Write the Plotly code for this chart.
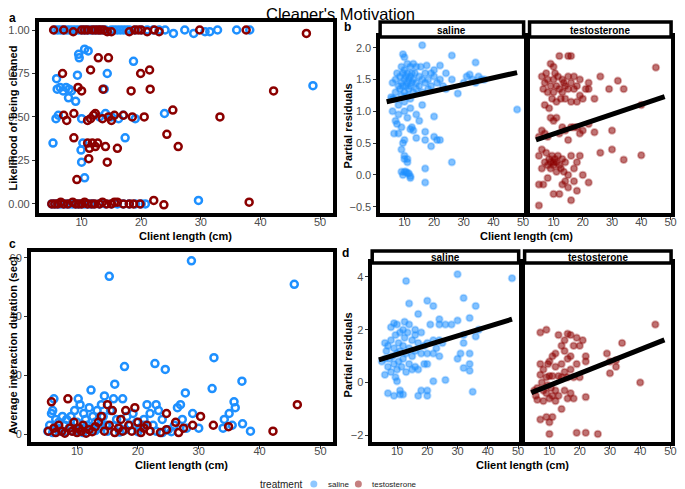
import plotly.graph_objects as go

# the page body keeps its 8px default margin, so the figure is 8px smaller
# and every reference pixel position is shifted by that offset
W, H = 685, 489
OFF = 8
BLUE = "#1E90FF"
RED = "#8B0000"

# ---- panel a: likelihood of being cleaned ----
a_sal_x = [5.5, 6, 6.5, 7, 7.5, 8, 8.5, 9, 9.5, 10, 10.5, 11, 11.5, 12, 12.5, 13, 13.5, 14, 15, 15.5,
           16, 16.5, 17, 17.5, 18, 19, 20, 21, 22, 23, 24, 25.4, 27.3, 28.8, 30.7, 31.5, 32.8, 36, 38.2,
           9.5, 9.6, 10.5, 11.1, 18.7, 14.3, 9.3, 5.8, 5.9, 6.4, 6.9, 7.4, 7.9, 8.3, 7.8, 9.0, 13.8, 48.8,
           5.7, 6.1, 10.0, 13.0, 14.0, 15.0, 16.2, 17.0, 19.0, 23.9, 17.3, 5.2, 9.9, 10.2, 10.0, 10.5,
           5, 5.5, 6, 6.5, 7, 7.5, 8, 8.5, 9, 9.5, 10, 10.5, 11, 11.5, 12, 13, 14, 15, 16, 17, 18, 19,
           20, 20.7, 29.6]
a_sal_y = [1.0] * 25 + [1.0, 1.0, 1.0, 1.0, 1.0, 1.0, 0.98, 1.0, 0.98, 0.99, 0.99, 1.0, 1.0, 1.0,
           0.86, 0.84, 0.89, 0.88, 0.82, 0.75, 0.74, 0.72, 0.66, 0.67, 0.65, 0.67, 0.66, 0.65, 0.61, 0.59, 0.66, 0.68,
           0.49, 0.51, 0.49, 0.5, 0.52, 0.5, 0.49, 0.51, 0.49, 0.52, 0.38, 0.35, 0.31, 0.35, 0.24, 0.15,
           0, 0, 0, 0, 0, 0, 0, 0, 0, 0, 0, 0, 0, 0, 0, 0, 0, 0, 0, 0, 0, 0, 0, 0, 0.02]
a_tes_x = [5.3, 7.0, 8.6, 10.0, 10.5, 11.0, 11.8, 12.3, 12.8, 13.2, 13.7, 14.3, 15.0, 18.0, 18.9, 19.5,
           20.0, 21.0, 22.2, 23.0, 29.8, 37.6, 47.7,
           12.8, 14.5, 11.5, 6.8, 19.9, 21.4, 9.4, 10.0, 13.6, 18.3, 21.5, 42.2,
           7.0, 7.5, 8.7, 11.0, 11.5, 12.0, 12.3, 13.5, 14.5, 15.0, 15.5, 17.0, 18.5, 20.5, 25.3, 33.2,
           8.7, 11.0, 11.8, 12.7, 12.3, 14.0, 16.0, 11.3, 24.3, 26.2, 11.2, 14.3, 9.2,
           5.0, 5.5, 6.0, 6.5, 7.0, 7.7, 8.5, 9.0, 9.5, 10.0, 10.5, 11.0, 11.7, 12.2, 13.0, 13.5, 14.2,
           15.0, 15.5, 16.0, 17.0, 18.0, 18.7, 19.8, 22.1, 23.8, 38.1]
a_tes_y = [1.0, 1.0, 0.99, 1.0, 1.0, 1.0, 1.0, 1.0, 1.0, 1.0, 1.0, 0.99, 0.99, 0.99, 1.0, 1.0,
           1.0, 0.99, 1.0, 0.99, 1.0, 1.0, 0.98,
           0.84, 0.84, 0.77, 0.75, 0.75, 0.77, 0.67, 0.65, 0.66, 0.65, 0.66, 0.65,
           0.51, 0.48, 0.52, 0.48, 0.49, 0.51, 0.52, 0.49, 0.5, 0.48, 0.51, 0.51, 0.5, 0.5, 0.54, 0.5,
           0.38, 0.35, 0.35, 0.35, 0.33, 0.33, 0.32, 0.32, 0.4, 0.33, 0.26, 0.24, 0.14,
           0, 0, 0, 0.01, 0, 0, 0.01, 0, 0, 0, 0.01, 0, 0, 0, 0, 0.01, 0,
           0, 0.01, 0.01, 0, 0, 0, 0, 0.02, -0.005, 0.01]

# ---- panel c: average interaction duration ----
c_sal_x = [5.5, 5.8, 6.0, 6.2, 6.5, 6.8, 7.0, 7.3, 7.6, 8.0, 8.3, 8.7, 9.0, 9.3, 9.6, 10.0, 10.2, 10.5,
           10.8, 11.1, 11.4, 11.7, 12.0, 12.3, 12.6, 13.0, 13.3, 13.6, 14.0, 14.3, 14.5, 14.8, 15.3, 15.5,
           16.0, 16.2, 16.5, 17.0, 17.5, 17.8, 18.2, 18.7, 19.2, 19.8, 20.3, 21.0, 21.5, 22.0, 22.5, 22.8,
           23.0, 23.4, 24.0, 24.5, 25.0, 26.0, 26.5, 27.0, 27.3, 27.8, 28.8, 29.0, 30.0, 32.2, 32.5, 34.0,
           34.2, 35.0, 35.5, 35.8, 36.0, 37.1, 37.2, 38.5, 45.7,
           5.2, 6.0, 7.0, 8.0, 9.0, 10.0, 11.0, 12.0, 13.0, 14.0, 15.0, 16.0, 17.0, 18.0, 20.0, 21.0,
           23.0, 24.0, 25.5, 28.0]
c_sal_y = [3, 7, 8, 12, 5, 2, 4, 1, 6, 3, 5, 2, 6, 1, 8, 4, 12, 10,
           2, 7, 5, 3, 9, 15, 6, 4, 8, 2, 10, 6, 13, 3, 53.7, 8,
           12, 17, 5, 2, 12, 23, 6, 3, 7, 4, 2, 5, 10, 7, 3, 24,
           10, 8, 5, 22, 1.5, 3, 9, 10, 5, 14, 59, 7, 2, 15.5, 26, 2,
           5, 7, 3, 11, 9, 18, 3.5, 1, 51,
           1, 0.5, 1.5, 0.8, 2.5, 1, 0.5, 2, 1.2, 3.5, 1, 2.8, 0.7, 1.5, 0.8, 3,
           1, 0.5, 0.8, 2]
c_tes_x = [5.3, 5.8, 6.2, 6.5, 7.0, 7.5, 8.0, 8.5, 8.8, 9.2, 9.5, 10.0, 10.3, 10.7, 11.0, 11.5, 12.0,
           12.5, 13.0, 13.5, 14.0, 14.5, 15.0, 15.3, 15.8, 16.2, 16.8, 17.2, 17.5, 18.0, 18.5, 19.0, 19.5,
           20.0, 20.5, 21.0, 21.5, 22.0, 23.7, 24.7, 24.7, 26.2, 26.7, 27.5, 29.0, 30.3, 32.4, 34.9, 42.2, 46.2]
c_tes_y = [1, 11, 2, 0.5, 3, 1, 0.3, 12, 2, 1, 4, 0.5, 2, 1, 3, 0.3, 1.5,
           0.8, 2.5, 4, 6, 1, 10, 3, 8, 0.5, 2, 5, 1, 8, 3, 1, 9,
           4, 0.5, 2, 3, 1, 0.5, 7, 1.5, 4, 0.5, 2, 3, 6, 3, 2.5, 1, 10]

# ---- panel b: partial residuals (likelihood model) ----
b_sal_x = [6, 6.5, 7, 7, 7.5, 8, 8, 8.5, 8.5, 9, 9, 9, 9.5, 9.5, 9.5, 10, 10, 10, 10, 10, 10.5, 10.5,
           11, 11, 11, 11, 11.5, 11.5, 12, 12, 12, 12, 12.5, 12.5, 13, 13, 13, 13.5, 14, 14, 14, 15, 15,
           15.5, 16, 16, 16, 17, 17, 17.5, 18, 18, 19, 19, 20, 20, 21, 22, 22, 23, 24, 24, 26, 26, 28,
           30, 31, 32, 33, 34, 34, 35, 36, 37, 48,
           6, 6.5, 7, 7.5, 8, 8, 9, 9, 9.5, 10, 10, 10, 10, 11, 11, 11, 12, 12, 12.5, 13, 9, 9.5, 10,
           10.5, 11, 11.5, 12, 12, 14, 14, 15, 16, 17, 17, 17, 17, 19, 20, 20, 21, 22, 26, 5.5, 6]
b_sal_y = [1.45, 1.2, 1.5, 1.3, 1.6, 1.4, 1.1, 1.55, 1.35, 1.7, 1.45, 1.25, 1.9, 1.6, 1.4, 1.85, 1.65,
           1.5, 1.3, 1.15, 1.55, 1.4, 1.75, 1.6, 1.45, 1.25, 1.5, 1.35, 1.7, 1.55, 1.4, 1.2, 1.6, 1.45,
           1.75, 1.5, 1.3, 1.6, 1.7, 1.45, 1.35, 1.55, 1.4, 1.7, 2.04, 1.5, 1.3, 1.6, 1.45, 1.72, 1.5,
           1.35, 1.6, 1.4, 1.55, 1.65, 1.45, 1.72, 1.5, 1.4, 1.6, 1.35, 1.88, 1.5, 1.28, 1.45, 1.55,
           1.58, 1.5, 1.77, 1.45, 1.55, 1.5, 1.5, 1.03,
           1.0, 0.65, 0.85, 0.8, 0.65, 0.95, 0.4, 0.75, 0.5, 0.55, 1.0, 0.25, 0.3, 0.25, 0.2, 0.9,
           1.05, 0.72, 0.75, 0.7, 0.05, 0.0, 0.05, 0.05, 0.03, 0.02, -0.02, -0.05, 0.95, 0.58, 0.85,
           1.1, 0.68, 0.55, 0.1, -0.12, 0.45, 0.6, 0.92, 0.55, 0.55, 0.2, 1.22, 1.2]
b_tes_x = [6, 6.5, 7, 7, 7.5, 8, 8, 8.5, 9, 9, 9.5, 10, 10, 10, 10.5, 11, 11, 11.5, 12, 12, 12.5, 13,
           13, 13.5, 14, 14, 15, 15, 15, 16, 16, 16, 17, 17, 18, 18, 19, 19, 20, 21, 22, 22, 24, 26, 29,
           32, 34, 45, 40,
           5, 6, 7, 8, 9, 10, 11, 12, 13, 14, 15, 16, 17, 18, 19, 20, 22, 24, 30,
           5, 5, 5, 6, 6, 6.5, 7, 7.5, 8, 8, 8.5, 9, 9, 9.5, 10, 10, 10, 10.5, 11, 11, 11.5, 12, 12,
           12.5, 13, 13, 13.5, 14, 14, 15, 15, 16, 16, 17, 17, 18, 18, 19, 20, 22, 26, 30, 34, 40]
b_tes_y = [1.55, 1.35, 1.1, 1.45, 1.6, 1.3, 1.5, 1.05, 1.75, 1.4, 1.2, 1.7, 1.5, 1.3, 1.6, 1.4, 1.15,
           1.55, 1.87, 1.35, 1.2, 1.5, 1.3, 1.45, 1.4, 1.2, 1.87, 1.55, 1.35, 1.87, 1.45, 1.15, 1.55,
           1.35, 1.4, 1.15, 1.25, 1.5, 1.2, 1.35, 1.45, 1.35, 1.2, 1.55, 1.35, 1.48, 1.35, 1.69, 1.1,
           0.6, 0.7, 0.65, 0.6, 0.9, 0.85, 0.9, 0.65, 0.75, 0.7, 0.55, 0.75, 0.75, 0.75, 0.65, 0.7,
           0.8, 0.67, 0.7,
           0.3, -0.15, -0.48, 0.1, 0.4, -0.15, 0.2, 0.35, 0.15, -0.05, 0.25, 0.2, 0.1, 0.3, 0.2, 0.15,
           -0.3, 0.25, 0.2, 0.05, 0.3, 0.15, -0.3, 0.1, 0.25, -0.15, 0.05, -0.1, 0.2, 0.0, -0.2, 0.3,
           -0.4, 0.1, -0.1, 0.2, -0.25, 0.3, 0.0, -0.12, 0.35, 0.4, 0.24, 0.31]

# ---- panel d: partial residuals (duration model) ----
d_sal_x = [6, 6, 6.5, 7, 7, 7, 7.5, 8, 8, 8, 8.5, 9, 9, 9, 9, 9.5, 9.5, 10, 10, 10, 10, 10.5, 10.5,
           11, 11, 11, 11, 11.5, 12, 12, 12, 12, 12.5, 12.5, 13, 13, 13, 13.5, 14, 14, 14, 14, 15, 15,
           15, 16, 16, 16, 16, 17, 17, 17, 17, 18, 18, 18, 19, 19, 20, 20, 20, 20, 20, 20, 21, 22, 22,
           22, 22, 23, 24, 24, 24, 24, 25, 26, 26, 28, 30, 30, 30, 31, 32, 32, 32, 32, 34, 34, 34, 34,
           35, 36, 36, 37, 48, 5, 6]
d_sal_y = [0.9, 0.3, 1.2, 0.6, 1.4, -0.4, 0.9, 1.6, 0.4, 2.1, 1.0, 1.3, 0.7, 2.25, -0.5, 1.8, 0.2,
           1.1, 0.5, 2.2, 0.05, 1.5, 0.8, 1.9, 1.2, -0.3, -0.45, 0.6, 2.0, 1.4, 0.9, -0.45, 1.7, 2.3,
           1.1, 3.85, 0.4, 1.9, 1.3, 2.2, 3.0, 0.7, 1.6, 0.5, 1.0, 1.8, 2.0, 0.6, 1.2, 2.6, 0.5, -0.5,
           1.5, 1.1, -0.3, 1.9, 1.4, 0.7, 3.1, 1.1, -0.3, -0.5, 0.7, 1.5, 2.2, 2.9, 1.6, 1.1, 0.05,
           1.3, 2.4, 2.2, 1.6, 1.0, 1.5, 0.1, 2.2, 2.2, 2.35, 4.1, 0.9, 1.1, 3.2, 1.8, 1.5, 0.55,
           2.45, 1.1, 0.7, 0.45, -0.35, 2.9, 1.75, 2.0, 3.95, 0.8, 1.5]
d_tes_x = [5, 5.5, 6, 6, 7, 7, 7, 7, 7.5, 8, 8, 8, 9, 9, 9, 9, 9.5, 9.5, 10, 10, 10, 10, 10, 10.5,
           11, 11, 11, 11, 12, 12, 12, 12, 13, 13, 13, 14, 14, 14, 14, 15, 15, 15, 15, 16, 16, 16, 16,
           17, 17, 17, 17, 18, 18, 18, 19, 19, 19, 20, 20, 21, 22, 22, 22, 22, 26, 29, 30, 30, 32, 32,
           34, 40, 45]
d_tes_y = [-0.3, -0.5, -0.2, -0.65, 1.9, -1.4, 0.7, 0.3, 0.0, -0.3, -0.7, 0.5, 2.0, 0.2, -0.4, -1.3,
           0.7, -0.1, -1.95, -1.5, 0.25, -0.6, 0.8, -0.2, -1.3, 0.25, -0.5, 1.0, -0.3, 0.6, 1.1, -0.7,
           1.8, 0.25, -0.5, 1.4, -1.0, 0.7, 0.2, 1.6, 0.4, -0.3, 1.2, 1.85, 0.2, -0.6, 0.9, 1.8, 0.5,
           -0.4, 1.0, 0.2, -0.6, 1.4, 1.7, -1.9, 0.7, 1.4, 0.2, 1.6, 0.8, -0.55, -1.9, 1.0, -1.95, 1.1,
           0.8, 0.35, 0.85, 0.6, 1.5, 0.0, 2.2]

# fitted lines (end points)
fit_x = [4, 48]
b_sal_fit = [1.15, 1.61]
b_tes_fit = [0.55, 1.23]
d_sal_fit = [0.86, 2.4]
d_tes_fit = [-0.38, 1.62]

FONT = "Liberation Sans, Arial, sans-serif"
FW, FH = W - OFF, H - OFF


def px(x):
    return (x - OFF) / FW


def py(y):
    return 1 - (y - OFF) / FH


fig = go.Figure()


def ring(x, y, color, xa, ya):
    fig.add_trace(go.Scatter(x=x, y=y, xaxis=xa, yaxis=ya, mode="markers", showlegend=False,
                             marker=dict(symbol="circle-open", size=7, color=color,
                                         line=dict(width=2.5, color=color)),
                             cliponaxis=False))


def dots(x, y, rgb, xa, ya):
    fig.add_trace(go.Scatter(x=x, y=y, xaxis=xa, yaxis=ya, mode="markers", showlegend=False,
                             marker=dict(size=6.5, color=f"rgba({rgb},0.55)",
                                         line=dict(width=2, color=f"rgba({rgb},0.3)"))))


def fit(y, xa, ya):
    fig.add_trace(go.Scatter(x=fit_x, y=y, xaxis=xa, yaxis=ya, mode="lines", showlegend=False,
                             line=dict(color="black", width=5)))


ring(a_sal_x, a_sal_y, BLUE, "x", "y")
ring(a_tes_x, a_tes_y, RED, "x", "y")
dots(b_sal_x, b_sal_y, "30,144,255", "x2", "y2")
fit(b_sal_fit, "x2", "y2")
dots(b_tes_x, b_tes_y, "139,0,0", "x3", "y3")
fit(b_tes_fit, "x3", "y3")
ring(c_sal_x, c_sal_y, BLUE, "x4", "y4")
ring(c_tes_x, c_tes_y, RED, "x4", "y4")
dots(d_sal_x, d_sal_y, "30,144,255", "x5", "y5")
fit(d_sal_fit, "x5", "y5")
dots(d_tes_x, d_tes_y, "139,0,0", "x6", "y6")
fit(d_tes_fit, "x6", "y6")

tickfont = dict(family=FONT, size=11, color="#4d4d4d")
common = dict(showline=True, mirror=True, linewidth=3.5, linecolor="black", showgrid=False,
              zeroline=False, ticks="outside", ticklen=3, tickcolor="#333333", tickwidth=1,
              tickfont=tickfont)

# panel boxes in reference pixels: (left, right, top, bottom)
boxes = {
    "": (38, 335, 22, 213),
    "2": (383, 528, 37, 213),
    "3": (534, 677, 37, 213),
    "4": (30, 335, 252, 442),
    "5": (375, 523, 263, 442),
    "6": (529, 677, 263, 442),
}
yranges = {"": [-0.052, 1.046], "2": [-0.6, 2.17], "3": [-0.6, 2.17],
           "4": [-2.7, 62], "5": [-2.25, 4.53], "6": [-2.25, 4.53]}
xranges = {"": [2.8, 52.1], "2": [1.8, 50.2], "3": [1.8, 50.2],
           "4": [2.4, 52], "5": [1.8, 50.2], "6": [1.8, 50.2]}
yticks = {"": ([0, 0.25, 0.5, 0.75, 1.0], ".2f"), "2": ([-0.5, 0, 0.5, 1.0, 1.5, 2.0], ".1f"),
          "4": ([0, 20, 40, 60], "d"), "5": ([-2, 0, 2, 4], "d")}

layout = {}
for k, (l, r, t, b) in boxes.items():
    layout["xaxis" + k] = dict(common, domain=[px(l), px(r)], range=xranges[k],
                               tickvals=[10, 20, 30, 40, 50], anchor="y" + k,
                               ticklabelstandoff=-7)
    ya = dict(common, domain=[py(b), py(t)], range=yranges[k], anchor="x" + k)
    if k in yticks:
        ya.update(tickvals=yticks[k][0], tickformat=yticks[k][1])
    else:
        ya.update(showticklabels=False, ticks="")
    layout["yaxis" + k] = ya

shapes = []
anns = []
bold = dict(family=FONT, size=11, color="black")


def note(text, x, y, font, angle=0):
    anns.append(dict(text=text, x=px(x), y=py(y), xref="paper", yref="paper", showarrow=False,
                     xanchor="center", yanchor="middle", textangle=angle, font=font))


# facet strips
for k, label, top in [("2", "saline", 22), ("3", "testosterone", 22),
                      ("5", "saline", 251), ("6", "testosterone", 251)]:
    l, r, t, b = boxes[k]
    shapes.append(dict(type="rect", xref="paper", yref="paper", x0=px(l), x1=px(r),
                       y0=py(t), y1=py(top), fillcolor="white",
                       line=dict(color="black", width=3.5)))
    note(f"<b>{label}</b>", (l + r) / 2, (t + top) / 2 + 0.5, dict(bold, size=10))

# axis titles
for xc, yc in [(186, 236), (531, 236), (182, 465), (527, 465)]:
    note("<b>Client length (cm)</b>", xc, yc, bold)
for txt, xc, yc in [("Likelihood of being cleaned", 12.5, 118), ("Partial residuals", 351, 126),
                    ("Average interaction duration (sec)", 12.5, 345), ("Partial residuals", 351, 355)]:
    note(f"<b>{txt}</b>", xc, yc, bold, -90)

# panel letters
for lt, xc, yc in [("a", 11.5, 18), ("b", 350, 27), ("c", 11.5, 244), ("d", 348, 253)]:
    note(f"<b>{lt}</b>", xc, yc, dict(bold, size=12))

note("Cleaner's Motivation", 343, 13.5, dict(family=FONT, size=16.5, color="black"))

# legend (drawn by hand to keep ggplot's compact spacing)
legend_keys = ["saline", "testosterone"]
legend_cols = ["rgba(30,144,255,0.5)", "rgba(139,0,0,0.5)"]
note("treatment", 283, 484, dict(family=FONT, size=10, color="#222"))
for lab, col, cx in zip(legend_keys, legend_cols, [316, 361]):
    shapes.append(dict(type="circle", xref="paper", yref="paper", xsizemode="pixel",
                       ysizemode="pixel", xanchor=px(cx), yanchor=py(484), x0=-3.5, x1=3.5,
                       y0=-3.5, y1=3.5, fillcolor=col, line=dict(width=0)))
    anns.append(dict(text=lab, x=px(cx + 12), y=py(484), xref="paper", yref="paper",
                     showarrow=False, xanchor="left", yanchor="middle",
                     font=dict(family=FONT, size=8, color="#222")))

fig.update_layout(
    width=FW, height=FH,
    margin=dict(l=0, r=0, t=0, b=0),
    paper_bgcolor="white", plot_bgcolor="white",
    shapes=shapes, annotations=anns,
    showlegend=False,
    **layout,
)

fig.write_html("out.html")
